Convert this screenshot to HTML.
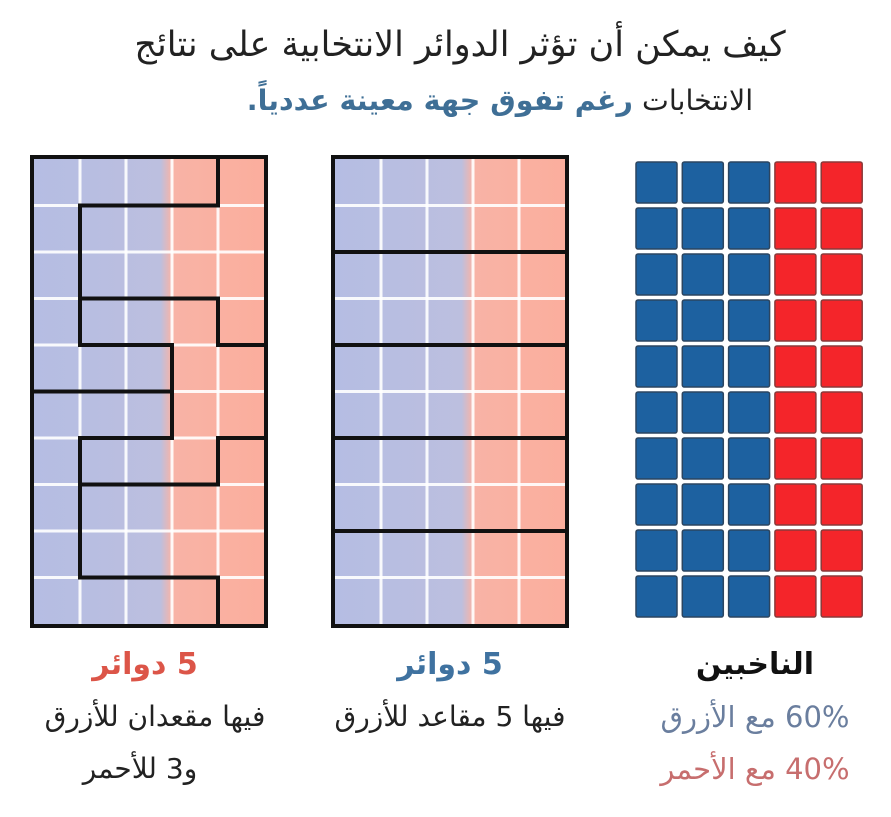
<!DOCTYPE html>
<html><head><meta charset="utf-8"><style>
body{margin:0;background:#fff;}
.w{position:relative;width:891px;height:817px;overflow:hidden;background:#fff;font-family:"DejaVu Sans","Noto Sans CJK SC",sans-serif;}
.t{position:absolute;direction:rtl;text-align:center;white-space:nowrap;line-height:1;}
</style></head><body><div class="w">
<div class="t" style="left:60px;width:800px;top:28px;font-size:35px;color:#222;">كيف يمكن أن تؤثر الدوائر الانتخابية على نتائج</div>
<div class="t" style="left:160px;width:680px;top:87px;font-size:28.5px;color:#222;">الانتخابات <b style="color:#3f6f96">رغم تفوق جهة معينة عددياً.</b></div>
<svg width="891" height="817" style="position:absolute;left:0;top:0">
<defs>
<linearGradient id="g" x1="0" x2="1"><stop offset="0" stop-color="#b5bde3"/><stop offset="0.55" stop-color="#bcbfdf"/><stop offset="0.6" stop-color="#f8b3a6"/><stop offset="1" stop-color="#fbae9d"/></linearGradient>
</defs>
<g id="L"></g><g id="M"></g><g id="R"></g>
</svg>
<div class="t" style="left:45px;width:200px;top:650px;font-size:30px;font-weight:bold;color:#dc5548;">5 دوائر</div>
<div class="t" style="left:0px;width:310px;top:703px;font-size:28px;color:#222;">فيها مقعدان للأزرق</div>
<div class="t" style="left:40px;width:200px;top:755px;font-size:28px;color:#222;">و3 للأحمر</div>
<div class="t" style="left:350px;width:200px;top:650px;font-size:30px;font-weight:bold;color:#3f72a0;">5 دوائر</div>
<div class="t" style="left:300px;width:300px;top:703px;font-size:28px;color:#222;">فيها 5 مقاعد للأزرق</div>
<div class="t" style="left:655px;width:200px;top:650px;font-size:30px;font-weight:bold;color:#111;">الناخبين</div>
<div class="t" style="left:625px;width:260px;top:703px;font-size:29px;color:#6a7e9e;">60% مع الأزرق</div>
<div class="t" style="left:625px;width:260px;top:755px;font-size:29px;color:#c76e6e;">40% مع الأحمر</div>
<script>
var ns="http://www.w3.org/2000/svg";
function el(p,n,a){var e=document.createElementNS(ns,n);for(var k in a)e.setAttribute(k,a[k]);p.appendChild(e);return e;}
function grid(id,x0,lines){
 var g=document.getElementById(id);var px=46,py=46.5,y0=159;
 el(g,"rect",{x:x0,y:y0,width:5*px,height:10*py,fill:"url(#g)"});
 for(var c=1;c<5;c++)el(g,"rect",{x:x0+c*px-1.5,y:y0,width:3,height:10*py,fill:"#fff","fill-opacity":0.9});
 for(var r=1;r<10;r++)el(g,"rect",{x:x0,y:y0+r*py-1.5,width:5*px,height:3,fill:"#fff","fill-opacity":0.9});
 el(g,"rect",{x:x0-2,y:y0-2,width:5*px+4,height:10*py+4,fill:"none",stroke:"#111","stroke-width":4});
 lines.forEach(function(l){el(g,"line",{x1:x0+l[0]*px,y1:y0+l[1]*py,x2:x0+l[2]*px,y2:y0+l[3]*py,stroke:"#111","stroke-width":4,"stroke-linecap":"square"});});
}
grid("L",34,[[4,0,4,1],[1,1,4,1],[1,1,1,4],[1,3,4,3],[4,3,4,4],[4,4,5,4],[1,4,3,4],[3,4,3,6],[0,5,3,5],[1,6,3,6],[1,6,1,9],[4,6,5,6],[4,6,4,7],[1,7,4,7],[1,9,4,9],[4,9,4,10]]);
grid("M",335,[[0,2,5,2],[0,4,5,4],[0,6,5,6],[0,8,5,8]]);
var R=document.getElementById("R");
for(var r=0;r<10;r++)for(var c=0;c<5;c++){
 el(R,"rect",{x:636+c*46.3,y:162+r*46,width:41,height:41,rx:2,fill:c<3?"#1d61a0":"#f4252a",stroke:c<3?"#2b4560":"#8a3a3a","stroke-width":1.5});
}
</script>
</div></body></html>
